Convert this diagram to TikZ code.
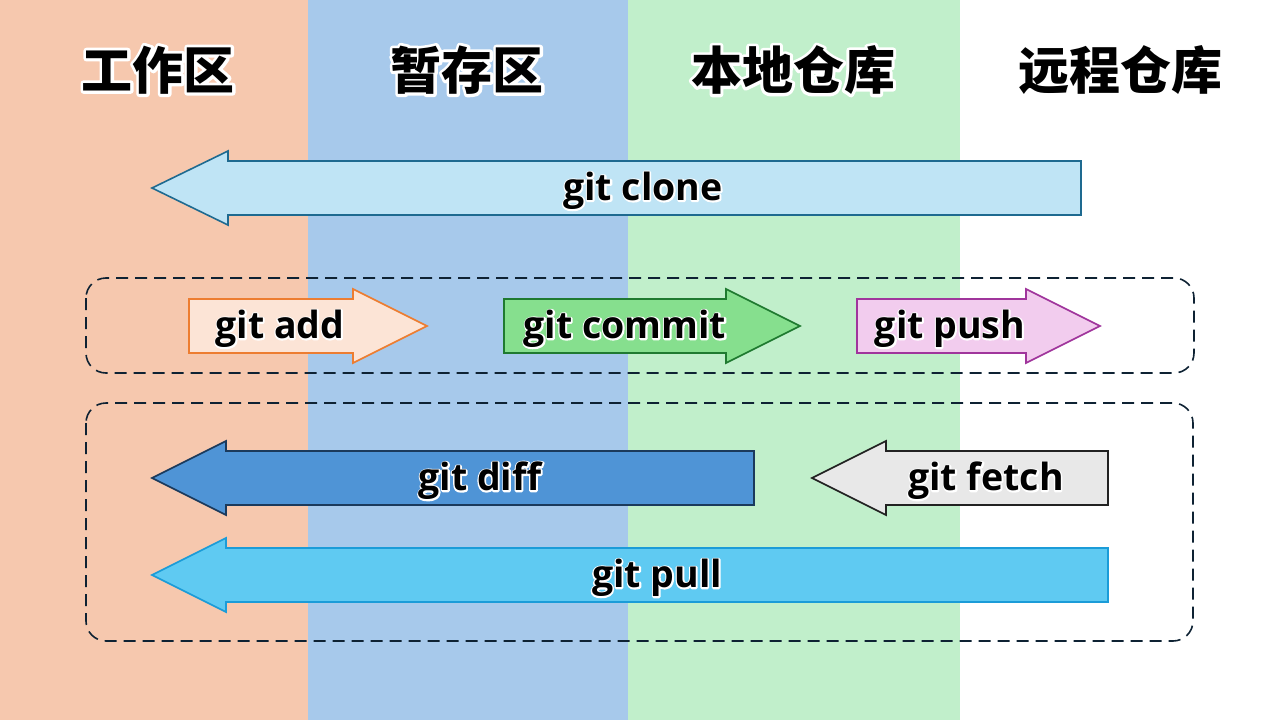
\documentclass[tikz,border=0pt]{standalone}
\usepackage{fontspec}
\newfontfamily\cjk{Noto Sans CJK SC}
\newfontfamily\lbl{Open Sans}
\definecolor{colA}{HTML}{F6C8AE}
\definecolor{colB}{HTML}{A7C9EB}
\definecolor{colC}{HTML}{C1EFCB}
\definecolor{dashc}{HTML}{0E2233}
\definecolor{cloneF}{HTML}{BFE4F5}\definecolor{cloneD}{HTML}{1E6A90}
\definecolor{addF}{HTML}{FCE4D6}\definecolor{addD}{HTML}{ED7D31}
\definecolor{comF}{HTML}{86DF8E}\definecolor{comD}{HTML}{1F7A30}
\definecolor{pushF}{HTML}{F2CCEE}\definecolor{pushD}{HTML}{A0359C}
\definecolor{diffF}{HTML}{4F94D6}\definecolor{diffD}{HTML}{1B3A5C}
\definecolor{fetchF}{HTML}{E8E8E8}\definecolor{fetchD}{HTML}{222222}
\definecolor{pullF}{HTML}{5FCAF2}\definecolor{pullD}{HTML}{1B9CD8}
\tikzset{
  arrowbody/.style={line width=1.6pt, line join=miter},
  groupbox/.style={draw=dashc, line width=1.6pt, dash pattern=on 12pt off 7pt, rounded corners=20pt},
  titlefont/.style={font=\cjk\bfseries\fontsize{51}{55}\selectfont},
  gitfont/.style={font=\lbl\bfseries\fontsize{37.5}{42}\selectfont},
}
% #1 name, #2 position (with parentheses), #3 style, #4 text, #5 halo width
\newcommand{\halolabel}[5]{%
  \node[#3, text=white] at #2 {\special{pdf:literal direct 1 Tr #5 w 1 j 1 1 1 RG}#4\special{pdf:literal direct 0 Tr}};
  \node[#3, text=black] (#1) at #2 {#4};
}
% left arrow: tip x, base of head x, right end x, center y
\newcommand{\leftarrowshape}[6]{%
  \draw[arrowbody, fill=#5, draw=#6] (#1,#4) -- (#2,#4-37) -- (#2,#4-27) -- (#3,#4-27) -- (#3,#4+27) -- (#2,#4+27) -- (#2,#4+37) -- cycle;
}
% right arrow: left end x, head base x, tip x, center y
\newcommand{\rightarrowshape}[6]{%
  \draw[arrowbody, fill=#5, draw=#6] (#1,#4-27) -- (#2,#4-27) -- (#2,#4-37) -- (#3,#4) -- (#2,#4+37) -- (#2,#4+27) -- (#1,#4+27) -- cycle;
}
\begin{document}
\begin{tikzpicture}[x=1pt,y=-1pt]
\useasboundingbox (0,0) rectangle (1280,720);
% columns
\fill[colA] (0,0) rectangle (308,720);
\fill[colB] (308,0) rectangle (628,720);
\fill[colC] (628,0) rectangle (960,720);
\fill[white] (960,0) rectangle (1280,720);
% titles
\halolabel{t1}{(158,70)}{titlefont}{工作区}{6}
\halolabel{t2}{(467,70)}{titlefont}{暂存区}{6}
\halolabel{t3}{(793,70)}{titlefont}{本地仓库}{6}
\halolabel{t4}{(1120,70)}{titlefont}{远程仓库}{6}
% group boxes
\draw[groupbox] (86,278) rectangle (1194,373);
\draw[groupbox] (86,403) rectangle (1193,641);
% git clone
\leftarrowshape{152}{228}{1081}{188}{cloneF}{cloneD}
\halolabel{clone}{(643,191)}{gitfont}{git clone}{3}
% push row
\rightarrowshape{189}{353}{427}{326}{addF}{addD}
\halolabel{add}{(280,329)}{gitfont}{git add}{3}
\rightarrowshape{504}{726}{800}{326}{comF}{comD}
\halolabel{commit}{(625,329)}{gitfont}{git commit}{3}
\rightarrowshape{857}{1026}{1100}{326}{pushF}{pushD}
\halolabel{push}{(950,329)}{gitfont}{git push}{3}
% pull rows
\leftarrowshape{152}{226}{754}{478}{diffF}{diffD}
\halolabel{diff}{(480,481)}{gitfont}{git diff}{3}
\leftarrowshape{812}{886}{1108}{478}{fetchF}{fetchD}
\halolabel{fetch}{(986,481)}{gitfont}{git fetch}{3}
\leftarrowshape{152}{226}{1108}{575}{pullF}{pullD}
\halolabel{pull}{(657,578)}{gitfont}{git pull}{3}
\end{tikzpicture}
\end{document}
